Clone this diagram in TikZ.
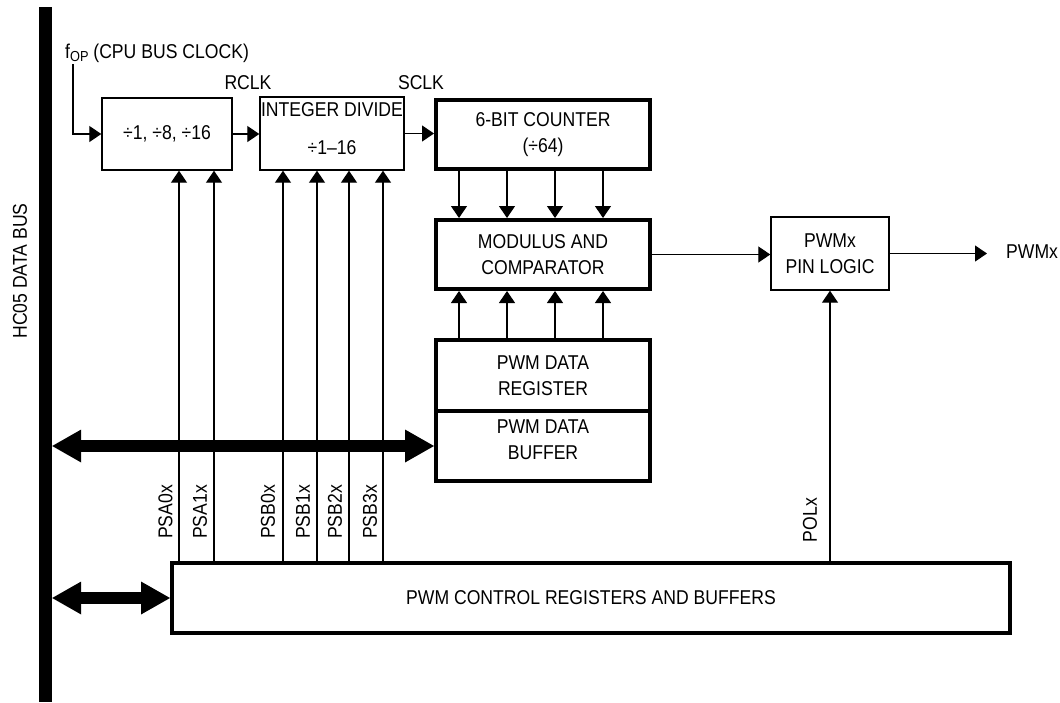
\documentclass[tikz,border=0pt]{standalone}
\usepackage{fontspec}
\setmainfont{Liberation Sans}[FakeStretch=0.88]
\usetikzlibrary{arrows.meta}
\begin{document}
\begin{tikzpicture}[x=1pt,y=-1pt,
  every node/.style={font=\fontsize{20}{26}\selectfont, inner sep=0pt, align=center},
  thinbox/.style={draw, line width=1.4pt, fill=white},
  thickbox/.style={draw, line width=4pt, fill=white},
  conn/.style={line width=1.2pt, -{Triangle[length=12pt,width=16pt]}},
  busarr/.style={line width=12.5pt, {Triangle[length=29pt,width=33pt,line width=0pt]}-{Triangle[length=29pt,width=33pt,line width=0pt]}},
  vlab/.style={rotate=90}]
\useasboundingbox (0,0) rectangle (1060,702);

% data bus
\node[fill=black, minimum width=13pt, minimum height=695pt] (bus) at (45.5,354.5) {};
\node[vlab] (buslab) at (20,271) {HC05 DATA BUS};

% clock input
\node[anchor=base west] (fop) at (65,58) {f\raisebox{-0.35ex}{\fontsize{14.5}{14.5}\selectfont OP} (CPU BUS CLOCK)};
\coordinate (fin) at (73,64);

% blocks
\node[thinbox, minimum width=130pt, minimum height=72pt] (div1) at (167,134) {÷1, ÷8, ÷16};
\node[thinbox, minimum width=144pt, minimum height=73pt] (idiv) at (332,133.5) {};
\node (idivt1) at (332,110) {INTEGER DIVIDE};
\node (idivt2) at (332,147.5) {÷1–16};
\node[anchor=base] (rclk) at (248,89) {RCLK};
\node[anchor=base] (sclk) at (421,89) {SCLK};
\node[thickbox, minimum width=214pt, minimum height=69pt] (cnt) at (543,134.5) {6-BIT COUNTER\\(÷64)};
\node[thickbox, minimum width=214pt, minimum height=69pt] (mod) at (543,254.5) {MODULUS AND\\COMPARATOR};
\node[thickbox, minimum width=214pt, minimum height=71pt] (reg) at (543,375.5) {PWM DATA\\REGISTER};
\node[thickbox, minimum width=214pt, minimum height=70pt] (buf) at (543,446) {};
\node (buft) at (543,440) {PWM DATA\\BUFFER};
\node[thinbox, minimum width=118pt, minimum height=73pt] (pin) at (830,253.5) {PWMx\\PIN LOGIC};
\coordinate (pout) at (987,252);
\node[anchor=west] (poutl) at (1006,252) {PWMx};
\node[thickbox, minimum width=838pt, minimum height=70pt] (ctrl) at (591,598) {PWM CONTROL REGISTERS AND BUFFERS};

% clock path
\draw[conn] (fin) |- (div1.west);
\draw[conn] (div1.east) -- (div1.east -| idiv.west);
\draw[conn] (idiv.east) -- (idiv.east -| cnt.west);

% counter/modulus/register buses
\foreach \i/\xx in {1/459,2/507,3/555,4/603} {
  \coordinate (c\i) at (\xx,0);
  \draw[conn] (c\i |- cnt.south) -- (c\i |- mod.north);
  \draw[conn] (c\i |- reg.north) -- (c\i |- mod.south);
}

% modulus to pin logic, output
\draw[conn] (mod.east) -- (mod.east -| pin.west);
\draw[conn] (pin.east) -- (pin.east -| pout);
\draw[conn] (ctrl.north -| pin.south) -- (pin.south);
\node[vlab] (polx) at (810,520) {POLx};

% prescaler select lines
\coordinate (pa0) at (179,0);
\coordinate (pa1) at (214,0);
\coordinate (pb0) at (283,0);
\coordinate (pb1) at (317,0);
\coordinate (pb2) at (349,0);
\coordinate (pb3) at (383,0);
\draw[conn] (pa0 |- ctrl.north) -- (pa0 |- div1.south);
\draw[conn] (pa1 |- ctrl.north) -- (pa1 |- div1.south);
\draw[conn] (pb0 |- ctrl.north) -- (pb0 |- idiv.south);
\draw[conn] (pb1 |- ctrl.north) -- (pb1 |- idiv.south);
\draw[conn] (pb2 |- ctrl.north) -- (pb2 |- idiv.south);
\draw[conn] (pb3 |- ctrl.north) -- (pb3 |- idiv.south);
\node[vlab] (lpa0) at (165.5,512) {PSA0x};
\node[vlab] (lpa1) at (200,512) {PSA1x};
\node[vlab] (lpb0) at (268,512) {PSB0x};
\node[vlab] (lpb1) at (303,512) {PSB1x};
\node[vlab] (lpb2) at (335,512) {PSB2x};
\node[vlab] (lpb3) at (370,512) {PSB3x};

% data bus arrows
\draw[busarr] (bus.east |- buf.west) -- (buf.west);
\draw[busarr] (bus.east |- ctrl.west) -- (ctrl.west);
\end{tikzpicture}
\end{document}
